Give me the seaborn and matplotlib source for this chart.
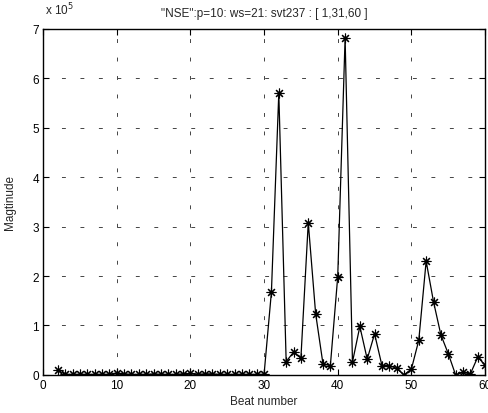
import numpy as np
import pandas as pd
import matplotlib
matplotlib.use("Agg")
import matplotlib.pyplot as plt
import seaborn as sns

beats = list(range(2, 61))
# magnitude in units of 1e5
magnitude = [0.10, 0.01, 0.01, 0.01, 0.01, 0.01, 0.01, 0.01, 0.04, 0.02,
             0.01, 0.01, 0.01, 0.02, 0.01, 0.01, 0.01, 0.02, 0.03, 0.01,
             0.02, 0.02, 0.01, 0.01, 0.01, 0.01, 0.01, 0.01, 0.01, 1.68,
             5.70, 0.27, 0.46, 0.34, 3.08, 1.24, 0.22, 0.19, 1.99, 6.82,
             0.26, 0.98, 0.32, 0.83, 0.19, 0.19, 0.13, 0.00, 0.12, 0.70,
             2.30, 1.48, 0.81, 0.43, 0.00, 0.05, 0.02, 0.36, 0.20]
title = '"NSE":p=10: ws=21: svt237 : [ 1,31,60 ]'
xticks = [0, 10, 20, 30, 40, 50, 60]
yticks = [0, 1, 2, 3, 4, 5, 6, 7]

df = pd.DataFrame({"beat": beats, "mag": magnitude})

sns.set_style("white")
plt.rcParams['font.family'] = ['Liberation Sans', 'DejaVu Sans']

fig = plt.figure(figsize=(4.89, 4.14), dpi=100)
ax = fig.add_axes([0.088, 0.092, 0.904, 0.836])

sns.lineplot(data=df, x="beat", y="mag", ax=ax, color="black", linewidth=0.9,
             marker=(8, 2, 0), markersize=7, markeredgecolor="black",
             markerfacecolor="black", markeredgewidth=0.8)

ax.set_xlim(0, 60)
ax.set_ylim(0, 7)
ax.set_xticks(xticks)
ax.set_yticks(yticks)
ax.set_xticklabels([str(t) for t in xticks], fontsize=8.5)
ax.set_yticklabels([str(t) for t in yticks], fontsize=8.5)
ax.tick_params(direction="in", length=4, width=0.8, top=True, right=True,
               bottom=True, left=True, pad=3, colors="black")
ax.grid(True, color="#444444", linewidth=0.7, linestyle=(0, (4, 15)))
for s in ax.spines.values():
    s.set_visible(True)
    s.set_color("black")
    s.set_linewidth(1.0)

ax.set_xlabel("Beat number", fontsize=8.5, labelpad=3)
ax.set_ylabel("Magtinude", fontsize=8.5, labelpad=12)
ax.set_title(title, fontsize=8.5, pad=9)
fig.text(0.088 + 0.005, 0.955, r"x 10$^{5}$", fontsize=8.5, ha="left", va="bottom")

fig.savefig("out.png", dpi=100)
